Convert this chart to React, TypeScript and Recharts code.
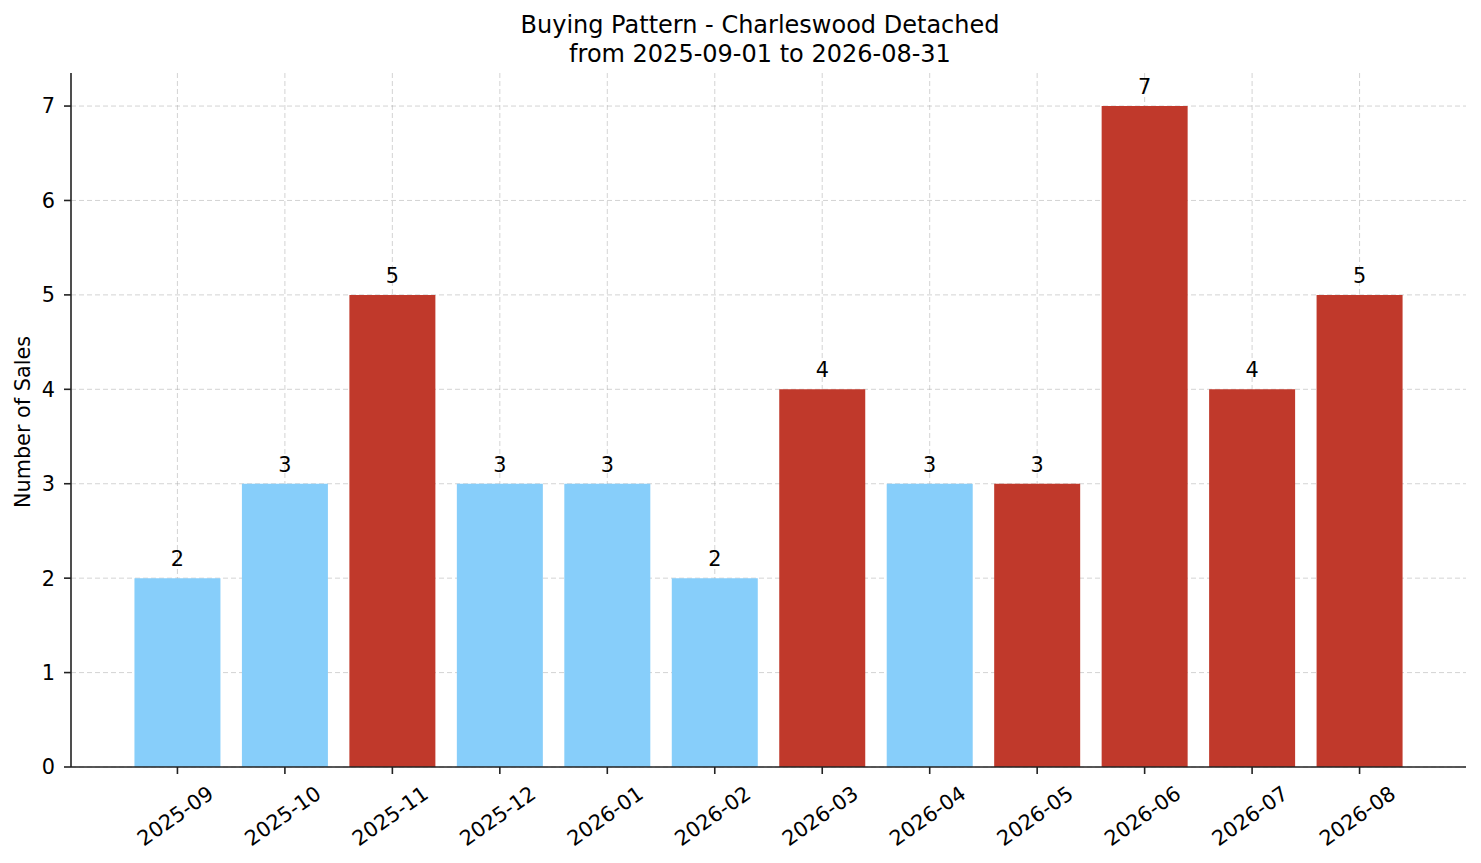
import { BarChart, Bar, XAxis, YAxis, CartesianGrid, Cell, LabelList } from "recharts";

const months = [
  "2025-09", "2025-10", "2025-11", "2025-12", "2026-01", "2026-02",
  "2026-03", "2026-04", "2026-05", "2026-06", "2026-07", "2026-08",
];
const sales = [2, 3, 5, 3, 3, 2, 4, 3, 3, 7, 4, 5];
const highlighted = [false, false, true, false, false, false, true, false, true, true, true, true];
const yTicks = [0, 1, 2, 3, 4, 5, 6, 7];

const data = months.map((month, i) => ({ month, sales: sales[i], hot: highlighted[i] }));

const FONT = "DejaVu Sans";
const BLUE = "#87cefa";
const RED = "#c0392b";
const SIZE = 20.8;

function MonthTick(props: any) {
  const { x, y, payload } = props;
  const cx = x - 2;
  const cy = y + 40;
  return (
    <text
      x={cx}
      y={cy}
      transform={`rotate(-35, ${cx}, ${cy})`}
      textAnchor="middle"
      dominantBaseline="central"
      fontSize={SIZE}
      fontFamily={FONT}
      fill="#000"
    >
      {payload.value}
    </text>
  );
}

export default function App() {
  return (
    <div style={{ position: "absolute", left: 0, top: 0, width: 1481, height: 863, background: "#fff" }}>
      <BarChart
        width={1481}
        height={863}
        data={data}
        margin={{ top: 73, right: 15, bottom: 0, left: 0 }}
        barCategoryGap="10%"
      >
        <XAxis
          dataKey="month"
          height={96}
          padding={{ left: 52.7, right: 52.7 }}
          tickSize={7}
          tickLine={{ stroke: "#222", strokeWidth: 1.6 }}
          axisLine={{ stroke: "#222", strokeWidth: 1.6 }}
          tick={<MonthTick />}
          interval={0}
        />
        <YAxis
          width={71}
          domain={[0, 7.35]}
          ticks={yTicks}
          allowDataOverflow
          tickSize={7}
          tickMargin={9}
          tickLine={{ stroke: "#222", strokeWidth: 1.6 }}
          axisLine={{ stroke: "#222", strokeWidth: 1.6 }}
          tick={{ fontSize: SIZE, fontFamily: FONT, fill: "#000" }}
        />
        <Bar dataKey="sales" isAnimationActive={false}>
          {data.map((d) => (
            <Cell key={d.month} fill={d.hot ? RED : BLUE} />
          ))}
          <LabelList
            dataKey="sales"
            position="top"
            offset={12}
            fontSize={SIZE}
            fontFamily={FONT}
            fill="#000"
          />
        </Bar>
        <CartesianGrid
          syncWithTicks
          stroke="#aaaaaa"
          strokeOpacity={0.5}
          strokeDasharray="5 3"
          strokeWidth={1}
        />
      </BarChart>
      <svg
        width={1481}
        height={863}
        style={{ position: "absolute", left: 0, top: 0, pointerEvents: "none" }}
      >
        <text x={760} y={33} textAnchor="middle" fontSize={24} fontFamily={FONT} fill="#000">
          Buying Pattern - Charleswood Detached
        </text>
        <text x={760} y={62} textAnchor="middle" fontSize={24} fontFamily={FONT} fill="#000">
          from 2025-09-01 to 2026-08-31
        </text>
        <text
          x={23}
          y={422}
          transform="rotate(-90, 23, 422)"
          textAnchor="middle"
          dominantBaseline="central"
          fontSize={SIZE}
          fontFamily={FONT}
          fill="#000"
        >
          Number of Sales
        </text>
      </svg>
    </div>
  );
}
